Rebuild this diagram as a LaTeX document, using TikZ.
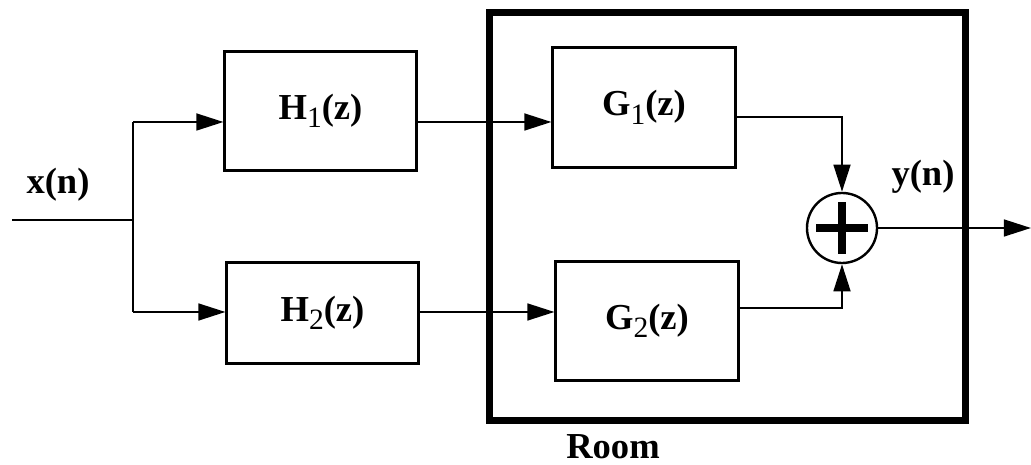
\documentclass[tikz,border=0pt]{standalone}
\usepackage{fontspec}
\setmainfont{Liberation Serif}
\usetikzlibrary{arrows.meta}
\tikzset{blk/.style={draw,line width=0.075cm,inner sep=0pt,font=\bfseries\fontsize{26}{30}\selectfont}}
\tikzset{sig/.style={line width=0.06cm,-{Triangle[length=0.68cm,width=0.42cm]}}}
\tikzset{wire/.style={line width=0.06cm}}
\tikzset{lbl/.style={font=\bfseries\fontsize{26}{30}\selectfont}}
\newcommand{\tf}[2]{#1\raisebox{-6pt}{\fontsize{21}{24}\selectfont\mdseries #2}(z)}

\begin{document}
\begin{tikzpicture}[x=0.025cm,y=0.025cm]
            \useasboundingbox (0,0) rectangle (1031,465);
            % the room around G1, G2 and the sum
            \node[draw,line width=0.175cm,minimum width=11.875cm,minimum height=10.175cm] (room) at (727.5,248.5) {};
            \node[lbl,inner sep=0pt] (roomlbl) at (613,18) {Room};
            % draw the blocks
            \node[blk,minimum width=4.775cm,minimum height=2.95cm] (H1) at (320.5,354) {\tf{H}{1}};
            \node[blk,minimum width=4.775cm,minimum height=2.5cm] (H2) at (322.5,152) {\tf{H}{2}};
            \node[blk,minimum width=4.55cm,minimum height=2.975cm] (G1) at (644,357.5) {\tf{G}{1}};
            \node[blk,minimum width=4.55cm,minimum height=2.95cm] (G2) at (647,144) {\tf{G}{2}};
            \node[draw,circle,line width=0.06cm,minimum size=1.75cm] (sum) at (842,237) {};
            \draw[line width=0.2cm] (sum.center) ++(-26,0) -- ++(52,0);
            \draw[line width=0.2cm] (sum.center) ++(0,-26) -- ++(0,52);
            % input and the split
            \coordinate (in) at (12,245);
            \coordinate (split) at (133,245);
            \coordinate (up) at (133,343);
            \coordinate (dn) at (133,153);
            \coordinate (out) at (1031,237);
            \draw[wire] (in) -- (split);
            \draw[wire] (up) -- (dn);
            \draw[sig] (up) -- (up -| H1.west);
            \draw[sig] (dn) -- (dn -| H2.west);
            \draw[sig] (up -| H1.east) -- (up -| G1.west);
            \draw[sig] (dn -| H2.east) -- (dn -| G2.west);
            % into the sum and out
            \draw[sig] ([yshift=-0.2375cm]G1.east) -| (sum.north);
            \draw[sig] ([yshift=0.325cm]G2.east) -| (sum.south);
            \draw[sig] (sum.east) -- (out);
            \node[lbl] (xn) at (58,280) {x(n)};
            \node[lbl] (yn) at (923,288) {y(n)};
        \end{tikzpicture}
\end{document}
